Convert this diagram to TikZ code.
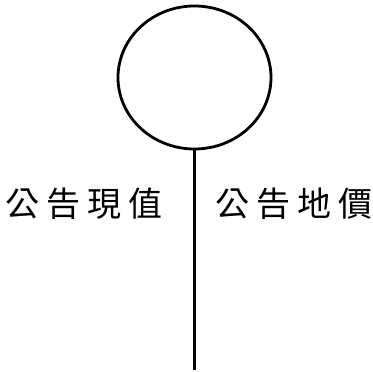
\documentclass[tikz,border=0pt]{standalone}
\usepackage{fontspec}
\usetikzlibrary{shapes.geometric}
\newfontfamily\cjk{Noto Sans CJK TC}
\newcommand{\gp}{\hspace{7pt}}
\begin{document}
\begin{tikzpicture}[x=1pt,y=-1pt,
  stroke/.style={line width=2.8pt, black},
  label/.style={font=\cjk\fontsize{34}{36}\selectfont, inner sep=0pt}]
\useasboundingbox (0,0) rectangle (373,372);
\node[stroke, draw, ellipse, minimum width=153pt, minimum height=143pt, inner sep=0pt] (c) at (194.5,77.5) {};
\coordinate (e) at (194.5,370);
\draw[stroke] (c.south) -- (e);
\node[label] (l) at (84,204) {公\gp 告\gp 現\gp 值};
\node[label] (r) at (294,204) {公\gp 告\gp 地\gp 價};
\end{tikzpicture}
\end{document}
